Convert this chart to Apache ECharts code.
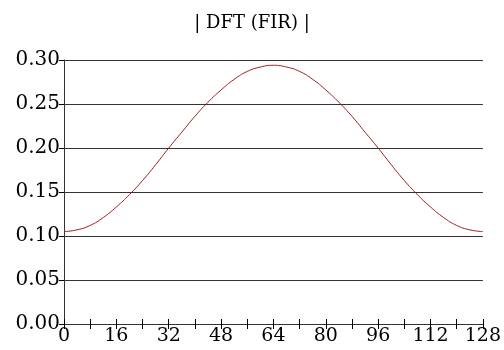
<!DOCTYPE html>
<html>
<head>
<meta charset="utf-8">
<script src="https://cdn.jsdelivr.net/npm/echarts@6/dist/echarts.min.js"></script>
<style>
  html, body { margin: 0; padding: 0; background: #fff; }
  #chart { width: 504px; height: 350px; }
</style>
</head>
<body>
<div id="chart"></div>
<script>
// sample index (0..128) and |DFT| magnitude
var xIndex = [0, 4, 8, 12, 16, 20, 24, 28, 32, 36, 40, 44, 48, 52, 56, 60, 64,
              68, 72, 76, 80, 84, 88, 92, 96, 100, 104, 108, 112, 116, 120, 124, 128];
var magnitude = [0.105, 0.107, 0.112, 0.121, 0.133, 0.147, 0.163, 0.181, 0.200,
                 0.218, 0.236, 0.252, 0.266, 0.278, 0.287, 0.292, 0.294,
                 0.292, 0.287, 0.278, 0.266, 0.252, 0.236, 0.218, 0.200,
                 0.181, 0.163, 0.147, 0.133, 0.121, 0.112, 0.107, 0.105];
var titleText = '| DFT (FIR) |';

var serif = 'DejaVu Serif';

var points = [];
for (var i = 0; i < xIndex.length; i++) {
    points.push([xIndex[i], magnitude[i]]);
}

var mcharts = echarts.init(document.getElementById('chart'));

var option = {
    animation: false,
    title: {
        text: titleText,
        left: 'center',
        top: 9,
        textStyle: {
            fontFamily: serif,
            fontSize: 18,
            fontWeight: 'normal',
            color: '#000'
        }
    },
    grid: { left: 64, right: 21, top: 60, bottom: 26 },
    xAxis: [
        {
            type: 'value',
            min: 0,
            max: 128,
            interval: 8,
            axisLine: { lineStyle: { color: '#333', width: 1 } },
            axisTick: { show: true, inside: false, length: 5, lineStyle: { color: '#000' } },
            axisLabel: {
                fontFamily: serif,
                fontSize: 19,
                color: '#000',
                margin: 3,
                formatter: function (v) { return v % 16 === 0 ? String(v) : ''; }
            },
            splitLine: { show: false }
        },
        {
            type: 'value',
            position: 'bottom',
            min: 0,
            max: 128,
            interval: 8,
            axisLine: { show: false },
            axisTick: { show: true, inside: true, length: 5, lineStyle: { color: '#000' } },
            axisLabel: { show: false },
            splitLine: { show: false }
        }
    ],
    yAxis: {
        type: 'value',
        min: 0,
        max: 0.30,
        interval: 0.05,
        axisLine: { show: true, lineStyle: { color: '#333', width: 1 } },
        axisTick: { show: true, length: 5, lineStyle: { color: '#000' } },
        axisLabel: {
            fontFamily: serif,
            fontSize: 20,
            color: '#000',
            margin: 4,
            formatter: function (v) { return v.toFixed(2); }
        },
        splitLine: { show: true, lineStyle: { color: '#333', width: 1 } }
    },
    series: [
        {
            type: 'line',
            data: points,
            xAxisIndex: 0,
            showSymbol: false,
            smooth: true,
            lineStyle: { color: '#9b1c1c', width: 1 }
        }
    ]
};

mcharts.setOption(option, true);
</script>
</body>
</html>
